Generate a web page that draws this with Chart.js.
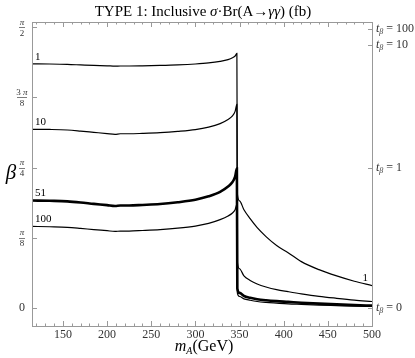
<!DOCTYPE html>
<html>
<head>
<meta charset="utf-8">
<script src="https://cdn.jsdelivr.net/npm/chart.js@4.4.1/dist/chart.umd.min.js"></script>
<style>
body { margin: 0; background: #fff; }
#wrap { width: 415px; height: 358px; }
</style>
</head>
<body>
<div id="wrap"><canvas id="myChart"></canvas></div>
<script>
// m_A grid (GeV) shared by all contours
const masses = [115, 135, 155, 170, 185, 200, 209, 215, 225, 240, 260, 280, 300, 315, 328, 337, 342, 345, 347, 347.5,
                350, 355, 362, 370, 380, 392, 405, 420, 440, 460, 480, 500];

// beta (rad) along each sigma*Br contour (fb)
const beta_1 = [1.366, 1.365, 1.363, 1.360, 1.357, 1.355, 1.353, 1.354, 1.354, 1.355, 1.357, 1.360, 1.365, 1.371, 1.380, 1.390, 1.400, 1.410, 1.425, 0.64,
                0.60, 0.55, 0.50, 0.45, 0.40, 0.35, 0.31, 0.26, 0.215, 0.18, 0.15, 0.126];
const beta_10 = [1.000, 0.999, 0.996, 0.990, 0.983, 0.976, 0.972, 0.975, 0.975, 0.977, 0.981, 0.988, 0.998, 1.012, 1.032, 1.055, 1.075, 1.10, 1.14, 0.26,
                 0.22, 0.18, 0.155, 0.135, 0.118, 0.103, 0.092, 0.080, 0.066, 0.055, 0.045, 0.037];
const beta_51 = [0.602, 0.600, 0.597, 0.591, 0.583, 0.576, 0.571, 0.574, 0.574, 0.577, 0.582, 0.592, 0.606, 0.625, 0.650, 0.680, 0.705, 0.735, 0.78, 0.11,
                 0.085, 0.068, 0.058, 0.050, 0.044, 0.039, 0.035, 0.030, 0.025, 0.021, 0.017, 0.014];
const beta_100 = [0.457, 0.455, 0.452, 0.446, 0.439, 0.433, 0.429, 0.431, 0.431, 0.434, 0.439, 0.447, 0.459, 0.474, 0.495, 0.515, 0.532, 0.550, 0.58, 0.085,
                  0.065, 0.052, 0.044, 0.037, 0.032, 0.028, 0.024, 0.021, 0.017, 0.014, 0.011, 0.009];

const contourLabels = ['1', '10', '51', '100'];
const xTicks = [150, 200, 250, 300, 350, 400, 450, 500];
const yTickCoef = ['', '', '', '3 ', ''];
const yTickDen = ['', '8', '4', '8', '2'];
const tanBetaTicks = [100, 10, 1, 0];

const serif = '"Liberation Serif", "DejaVu Serif", serif';

function pts(ys) {
    return masses.map((m, i) => ({ x: m, y: ys[i] }));
}

// draw a run of [text, font, dy] pieces starting at x
function drawRuns(ctx, runs, x, y, align) {
    let total = 0;
    runs.forEach(r => { ctx.font = r[1]; total += ctx.measureText(r[0]).width; });
    let cx = align === 'center' ? x - total / 2 : x;
    ctx.textAlign = 'left';
    runs.forEach(r => {
        ctx.font = r[1];
        ctx.fillText(r[0], cx, y + (r[2] || 0));
        cx += ctx.measureText(r[0]).width;
    });
}

const framePlugin = {
    id: 'frame',
    afterDraw(chart) {
        const ctx = chart.ctx;
        const a = chart.chartArea;
        const xs = chart.scales.x, ys = chart.scales.y;
        ctx.save();

        // frame
        ctx.strokeStyle = '#999';
        ctx.lineWidth = 1;
        ctx.strokeRect(a.left + 0.5, a.top + 0.5, a.right - a.left, a.bottom - a.top);

        // x ticks (bottom and top, inward)
        ctx.beginPath();
        for (let v = 120; v <= 500; v += 10) {
            const px = Math.round(xs.getPixelForValue(v)) + 0.5;
            const len = v % 50 === 0 ? 5 : 2.5;
            ctx.moveTo(px, a.bottom); ctx.lineTo(px, a.bottom - len);
            ctx.moveTo(px, a.top); ctx.lineTo(px, a.top + len);
        }
        // left ticks at multiples of pi/8
        for (let k = 0; k <= 4; k++) {
            const py = Math.round(ys.getPixelForValue(k * Math.PI / 8)) + 0.5;
            ctx.moveTo(a.left, py); ctx.lineTo(a.left + 5, py);
        }
        // right ticks at tan(beta) values
        tanBetaTicks.forEach(t => {
            const py = Math.round(ys.getPixelForValue(Math.atan(t))) + 0.5;
            ctx.moveTo(a.right, py); ctx.lineTo(a.right - 4, py);
        });
        ctx.stroke();

        ctx.fillStyle = '#333';
        ctx.textBaseline = 'middle';

        // x tick labels
        ctx.font = '12px ' + serif;
        ctx.textAlign = 'center';
        xTicks.forEach(v => ctx.fillText(String(v), xs.getPixelForValue(v), a.bottom + 9));

        // y tick labels as fractions of pi
        for (let k = 0; k <= 4; k++) {
            const py = ys.getPixelForValue(k * Math.PI / 8);
            const cx = a.left - 10;
            if (k === 0) {
                ctx.font = '12px ' + serif;
                ctx.textAlign = 'center';
                ctx.fillText('0', cx, py);
                continue;
            }
            drawRuns(ctx, [
                [yTickCoef[k], '9px ' + serif, 0],
                ['π', 'italic 9px ' + serif, 0]
            ], cx, py - 5, 'center');
            ctx.font = '9px ' + serif;
            ctx.textAlign = 'center';
            ctx.fillText(yTickDen[k], cx, py + 6);
            const w = k === 3 ? 10 : 6;
            ctx.beginPath();
            ctx.strokeStyle = '#444';
            ctx.lineWidth = 0.7;
            ctx.moveTo(cx - w / 2, Math.round(py) + 0.5); ctx.lineTo(cx + w / 2, Math.round(py) + 0.5);
            ctx.stroke();
        }

        // right tan(beta) labels
        tanBetaTicks.forEach(t => {
            const py = ys.getPixelForValue(Math.atan(t));
            drawRuns(ctx, [
                ['t', 'italic 12px ' + serif, 0],
                ['β', 'italic 8px ' + serif, 3],
                [' = ' + t, '12px ' + serif, 0]
            ], a.right + 4, py, 'left');
        });

        // title
        ctx.fillStyle = '#000';
        drawRuns(ctx, [
            ['TYPE 1: Inclusive ', '15px ' + serif],
            ['σ', 'italic 15px ' + serif],
            ['·Br(A→', '15px ' + serif],
            ['γγ', 'italic 15px ' + serif],
            [') (fb)', '15px ' + serif]
        ], 203, 12, 'center');

        // axis titles
        drawRuns(ctx, [
            ['m', 'italic 16px ' + serif, 0],
            ['A', 'italic 10px ' + serif, 4],
            ['(GeV)', '16px ' + serif, 0]
        ], 204, 347, 'center');
        ctx.font = 'italic 21px ' + serif;
        ctx.textAlign = 'center';
        ctx.fillText('β', 11, 173);

        // contour labels
        ctx.font = '11px ' + serif;
        ctx.textAlign = 'left';
        ctx.textBaseline = 'alphabetic';
        const curves = [beta_1, beta_10, beta_51, beta_100];
        curves.forEach((c, i) => {
            ctx.fillText(contourLabels[i], xs.getPixelForValue(masses[0]) + 3, ys.getPixelForValue(c[0]) - 4);
        });
        const n = masses.length - 1;
        ctx.textAlign = 'right';
        ctx.fillText(contourLabels[0], xs.getPixelForValue(masses[n]) - 4, ys.getPixelForValue(beta_1[n]) - 5);

        ctx.restore();
    }
};

const ctx = document.getElementById('myChart');

new Chart(ctx,
{
    type: 'line',
    data:
    {
        datasets:
        [
            { data: pts(beta_1), borderColor: '#000', borderWidth: 1.2 },
            { data: pts(beta_10), borderColor: '#000', borderWidth: 1.2 },
            { data: pts(beta_51), borderColor: '#000', borderWidth: 2.6 },
            { data: pts(beta_100), borderColor: '#000', borderWidth: 1.2 }
        ]
    },
    options:
    {
        responsive: true,
        maintainAspectRatio: false,
        animation: false,
        devicePixelRatio: 1,
        layout: { padding: { left: 32, right: 43, top: 22, bottom: 32 } },
        elements:
        {
            point: { radius: 0 },
            line: { tension: 0, cubicInterpolationMode: 'monotone', fill: false }
        },
        scales:
        {
            x: { type: 'linear', min: 115, max: 500, display: false },
            y: { type: 'linear', min: -0.1, max: 1.6, display: false }
        },
        plugins:
        {
            legend: { display: false },
            tooltip: { enabled: false }
        }
    },
    plugins: [framePlugin]
});
</script>
</body>
</html>
